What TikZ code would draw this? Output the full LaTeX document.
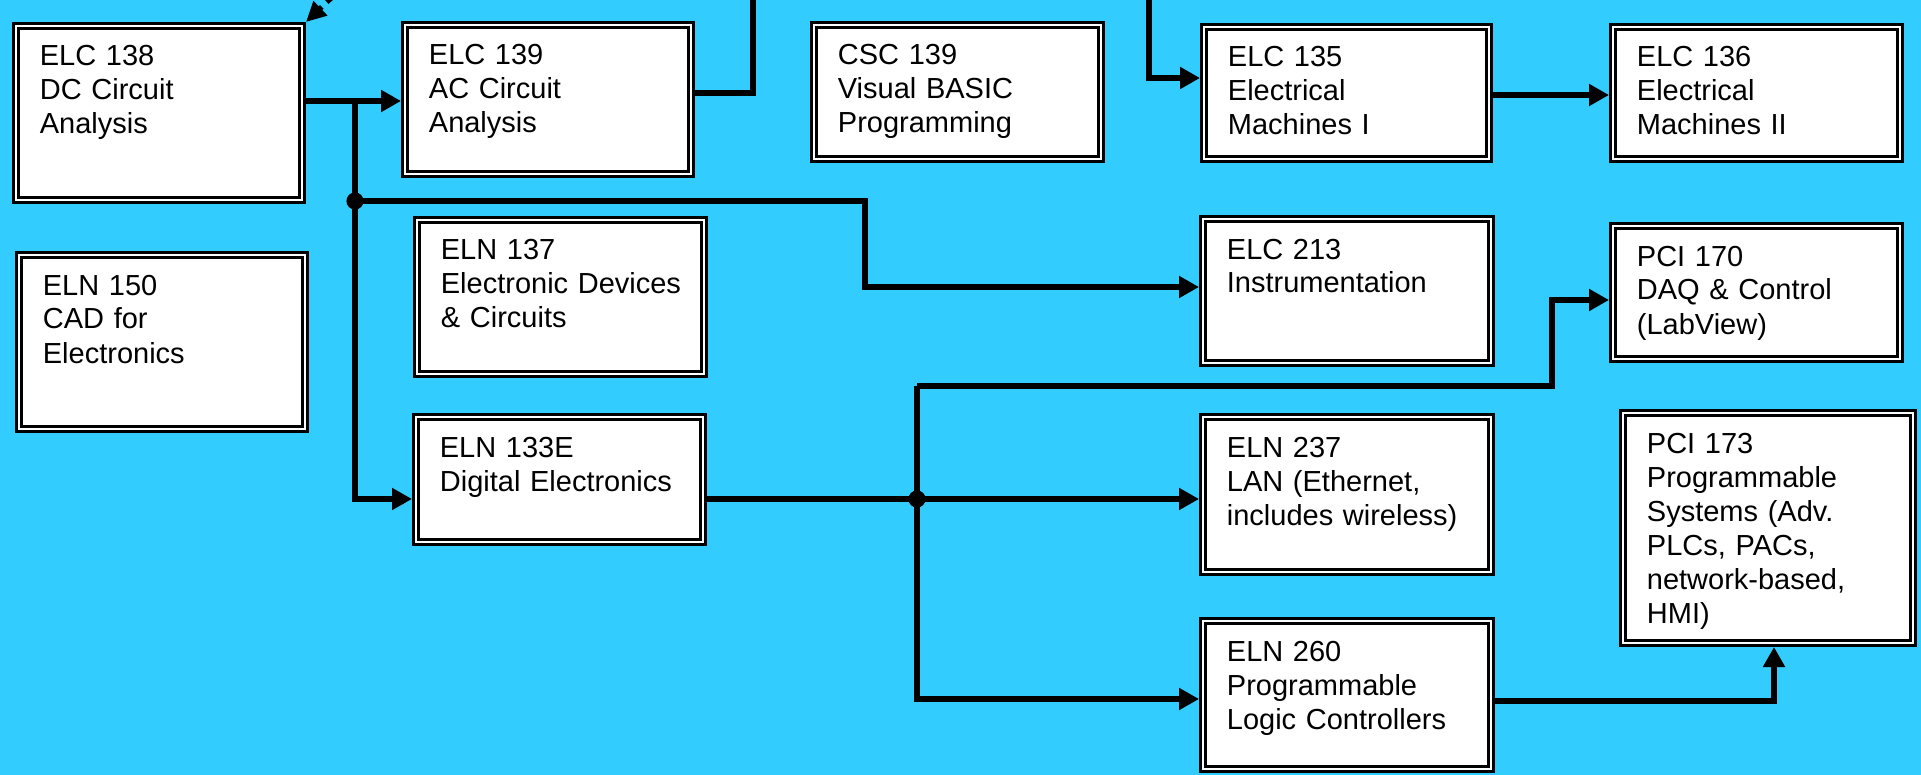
\documentclass[tikz,border=0pt]{standalone}
\usepackage{fontspec}
\newfontfamily\arialf{Liberation Sans}
\usetikzlibrary{arrows.meta}
\definecolor{bgblue}{RGB}{51,204,255}
\tikzset{
  box/.style={draw=black, line width=1.35pt, double=white, double distance=1.1pt, fill=white, inner sep=0pt, outer sep=1.9pt},
  boxtext/.style={anchor=base west, align=left, inner sep=0pt, font=\arialf\fontsize{14.5pt}{17pt}\selectfont},
  conn/.style={line width=2.85pt},
  arr/.style={-{Triangle[length=10pt,width=10.5pt]}},
  dotarrow/.style={line width=2.6pt, dash pattern=on 3pt off 3.5pt, -{Triangle[length=10pt,width=9.5pt]}},
  jdot/.style={fill=black}
}
\newcommand{\course}[6]{%
  \pgfmathsetmacro\bw{(#4-#2-7.6)*0.5}%
  \pgfmathsetmacro\bh{(#5-#3-7.6)*0.5}%
  \pgfmathsetmacro\tw{(#4-#2-36)*0.5}%
  \node[box, anchor=north west, minimum width=\bw pt, minimum height=\bh pt] (#1) at (#2,#3) {};
  \node[boxtext, text width=\tw pt] (#1-t) at ({#2+27.5},{#3+44}) {#6};
}
\begin{document}
\begin{tikzpicture}[x=0.5pt,y=-0.5pt]
\useasboundingbox (0,0) rectangle (1921,775);
\fill[bgblue] (0,0) rectangle (1921,775);
\clip (0,0) rectangle (1921,775);

\course{elc138}{12}{22}{306}{204}{ELC 138\\DC Circuit\\Analysis}
\course{elc139}{401}{21}{695}{178}{ELC 139\\AC Circuit\\Analysis}
\course{csc139}{810}{21}{1105}{163}{CSC 139\\Visual BASIC\\Programming}
\course{elc135}{1200}{23}{1493}{163}{ELC 135\\Electrical\\Machines I}
\course{elc136}{1609}{23}{1904}{163}{ELC 136\\Electrical\\Machines II}
\course{eln150}{15}{251}{309}{433}{ELN 150\\CAD for\\Electronics}
\course{eln137}{413}{216}{708}{378}{ELN 137\\Electronic Devices\\\& Circuits}
\course{eln133e}{412}{413}{707}{546}{ELN 133E\\Digital Electronics}
\course{elc213}{1199}{215}{1495}{367}{ELC 213\\Instrumentation}
\course{pci170}{1609}{222}{1904}{363}{PCI 170\\DAQ \& Control\\(LabView)}
\course{eln237}{1199}{413}{1495}{576}{ELN 237\\LAN (Ethernet,\\includes wireless)}
\course{pci173}{1619}{409}{1917}{647}{PCI 173\\Programmable\\Systems (Adv.\\PLCs, PACs,\\network-based,\\HMI)}
\course{eln260}{1199}{617}{1495}{773}{ELN 260\\Programmable\\Logic Controllers}

% dotted incoming arrow from off the top edge
\coordinate (src) at (350,-20);
\draw[dotarrow] (src) -- (elc138.north east);

% ELC 138 -> ELC 139 and branches
\draw[conn, arr] (elc138.east |- 0,101) -- (elc139.west |- 0,101);
\coordinate (j1) at (355,101);
\coordinate (j2) at (355,201);
\draw[conn, arr] (j1) -- (355,499) -- (eln133e.west |- 0,499);
\draw[conn, arr] (j2) -- (865,201) -- (865,287) -- (elc213.west |- 0,287);
\fill[jdot] (j2) circle[radius=4.3pt];

% ELC 139 -> ELC 135 (routed above the top edge)
\draw[conn, arr] (elc139.east |- 0,93) -- (753,93) -- (753,-40) -- (1149,-40) -- (1149,78) -- (elc135.west |- 0,78);

% ELC 135 -> ELC 136
\draw[conn, arr] (elc135.east |- 0,95) -- (elc136.west |- 0,95);

% ELN 133E -> branches
\coordinate (j3) at (917,499);
\draw[conn, arr] (eln133e.east |- 0,499) -- (eln237.west |- 0,499);
\draw[conn, arr] (917,386) -- (917,699) -- (eln260.west |- 0,699);
\draw[conn, arr] (917,386) -- (1552,386) -- (1552,300) -- (pci170.west |- 0,300);
\fill[jdot] (j3) circle[radius=4.3pt];

% ELN 260 -> PCI 173
\draw[conn, arr] (eln260.east |- 0,701) -- (1774,701) -- (pci173.south -| 1774,0);
\end{tikzpicture}
\end{document}
